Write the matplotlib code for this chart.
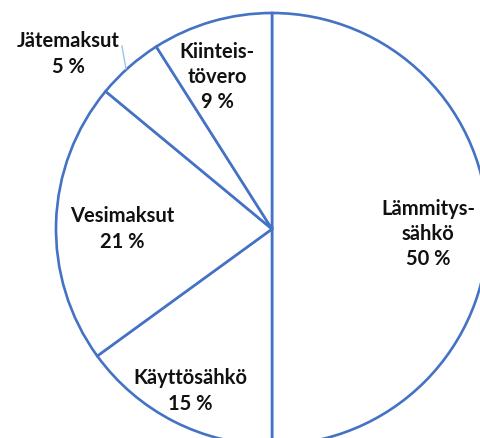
import matplotlib
matplotlib.use("Agg")
import matplotlib.pyplot as plt

categories = ["Lämmitys-\nsähkö", "Käyttösähkö", "Vesimaksut", "Jätemaksut", "Kiinteis-\ntövero"]
values = [50, 15, 21, 5, 9]

W, H = 481, 439
fig = plt.figure(figsize=(W / 100, H / 100), dpi=100)
ax = fig.add_axes([0, 0, 1, 1])

cx, cy, r = 272, H - 230, 216
ax.pie(values, startangle=90, counterclock=False, center=(cx, cy), radius=r,
       colors=["white"] * len(values),
       wedgeprops=dict(edgecolor="#4472C4", linewidth=1.9, joinstyle="miter"),
       frame=True)
ax.set_aspect("equal")
ax.set_xlim(0, W)
ax.set_ylim(0, H)
ax.axis("off")

label_pos = [(428, 234), (190, 391), (122, 229), (68, 54), (217, 77)]
for cat, v, (px, py) in zip(categories, values, label_pos):
    ax.text(px, H - py, f"{cat}\n{v} %", ha="center", va="center",
            fontsize=14.5, fontweight="bold", family=["Lato", "DejaVu Sans"],
            color="#111111", linespacing=1.32)

# leader line for Jätemaksut
ax.plot([122, 126], [H - 47, H - 70], color="#9DC3E6", linewidth=1.0)

fig.savefig("out.png", dpi=100)
